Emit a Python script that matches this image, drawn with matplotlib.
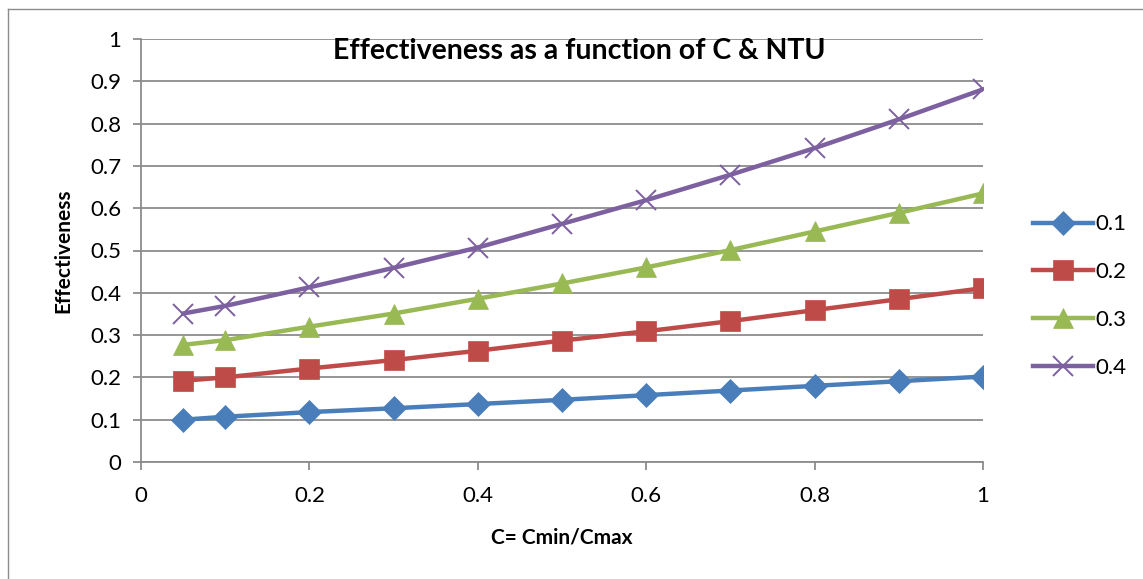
import matplotlib.pyplot as plt
from matplotlib.lines import Line2D

plt.rcParams['font.family'] = ['Lato', 'DejaVu Sans']

c_ratio = [0.05, 0.1, 0.2, 0.3, 0.4, 0.5, 0.6, 0.7, 0.8, 0.9, 1.0]
ntu_labels = ['0.1', '0.2', '0.3', '0.4']
eff_01 = [0.100, 0.107, 0.118, 0.127, 0.137, 0.147, 0.158, 0.169, 0.180, 0.191, 0.202]
eff_02 = [0.192, 0.200, 0.221, 0.241, 0.263, 0.287, 0.309, 0.333, 0.359, 0.385, 0.411]
eff_03 = [0.277, 0.288, 0.320, 0.351, 0.386, 0.422, 0.460, 0.501, 0.545, 0.589, 0.635]
eff_04 = [0.351, 0.369, 0.413, 0.459, 0.507, 0.563, 0.619, 0.679, 0.742, 0.810, 0.881]

series = [eff_01, eff_02, eff_03, eff_04]
colors = ['#4A7EBB', '#BE4B48', '#98B954', '#7D60A0']
markers = ['D', 's', '^', 'x']
msizes = [12, 14, 14, 14]

fig = plt.figure(figsize=(11.43, 5.79), dpi=100)
ax = fig.add_axes([141/1143, 117/579, 842/1143, 423/579])

for vals, col, mk, ms, lab in zip(series, colors, markers, msizes, ntu_labels):
    ax.plot(c_ratio, vals, color=col, lw=3.2, marker=mk, markersize=ms,
            markeredgewidth=1.4 if mk == 'x' else 0.5, label=lab, zorder=3)

ax.set_xlim(0, 1)
ax.set_ylim(0, 1)
ax.set_xticks([0, 0.2, 0.4, 0.6, 0.8, 1])
ax.set_xticklabels(['0', '0.2', '0.4', '0.6', '0.8', '1'])
ax.set_yticks([i / 10 for i in range(11)])
ax.set_yticklabels(['0'] + [f'0.{i}' for i in range(1, 10)] + ['1'])
ax.grid(axis='y', color='#8C8C8C', lw=1.3)
ax.set_axisbelow(True)
for s in ['top', 'right']:
    ax.spines[s].set_visible(False)
for s in ['left', 'bottom']:
    ax.spines[s].set_color('#8C8C8C')
    ax.spines[s].set_linewidth(1.3)
ax.tick_params(axis='both', colors='#8C8C8C', length=6, width=1.3, labelsize=16,
               labelcolor='black')
ax.tick_params(axis='x', pad=11)
ax.tick_params(axis='y', pad=8)

ax.set_xlabel('C= Cmin/Cmax', fontsize=15, fontweight='bold', labelpad=16)
ax.set_ylabel('Effectiveness', fontsize=15, fontweight='bold', labelpad=12)
fig.text(579/1143, 1 - 51/579, 'Effectiveness as a function of C & NTU',
         ha='center', va='center', fontsize=20.5, fontweight='bold')

leg = fig.legend(loc='center left', bbox_to_anchor=(1024/1143, 1 - 296/579),
                 frameon=False, fontsize=16, handlelength=2.7, labelspacing=1.25,
                 handletextpad=0.1, borderaxespad=0)

# chart area border
fig.add_artist(Line2D([8/1143, 8/1143], [0, 1 - 9/579], transform=fig.transFigure,
                      color='#8C8C8C', lw=1.0))
fig.add_artist(Line2D([8/1143, 1], [1 - 9/579, 1 - 9/579], transform=fig.transFigure,
                      color='#8C8C8C', lw=1.0))

fig.savefig('out.png', dpi=100)
